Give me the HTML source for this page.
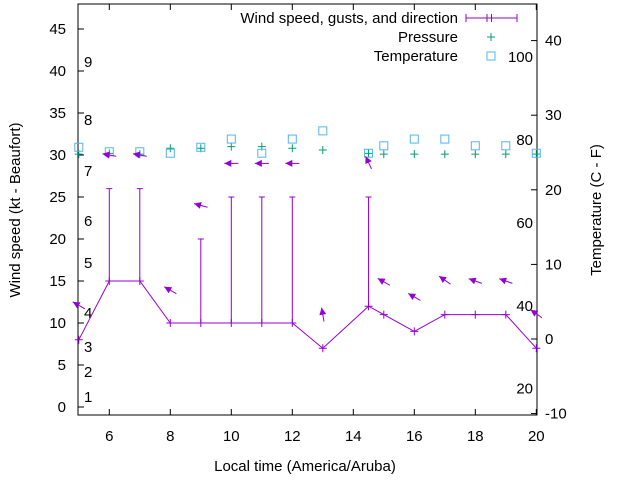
<!DOCTYPE html>
<html><head><meta charset="utf-8"><style>
body{margin:0;background:#fff}
svg{font-family:"Liberation Sans",sans-serif;font-size:15px}
</style></head><body>
<svg id="c" width="640" height="480">
<rect x="78" y="4" width="459" height="411" fill="none" stroke="#000"/>
<g id="ax"></g><g id="marks"></g>
<text x="305" y="471" text-anchor="middle">Local time (America/Aruba)</text>
<text transform="translate(20,210) rotate(-90)" text-anchor="middle">Wind speed (kt - Beaufort)</text>
<text transform="translate(601,210) rotate(-90)" text-anchor="middle">Temperature (C - F)</text>
<g>
<text x="458" y="23" text-anchor="end">Wind speed, gusts, and direction</text>
<line x1="466" y1="18" x2="517" y2="18" stroke="#9400d3"/>
<path d="M466 14v8M517 14v8M487 14v8M491.5 14v8" stroke="#9400d3"/>
<text x="458" y="42" text-anchor="end">Pressure</text>
<path d="M487 37h8M491 33v8" stroke="#009e73"/>
<text x="458" y="61" text-anchor="end">Temperature</text>
<rect x="487" y="52" width="8" height="8" fill="none" stroke="#56b4e9"/>
</g>
</svg>
<script>
const times=[5,6,7,8,9,10,11,12,13,14.5,15,16,17,18,19,20];
const speed=[8,15,15,10,10,10,10,10,7,12,11,9,11,11,11,7];
const gustTimes=[6,7,9,10,11,12,14.5];
const gusts=[26,26,20,25,25,25,25];
const pressure=[30.1,30.2,30.1,30.8,30.8,31.0,31.0,30.8,30.6,30.2,30.1,30.1,30.1,30.1,30.1,30.1];
const tempC=[25.7,25.1,25.1,24.9,25.7,26.8,24.9,26.8,27.9,24.9,25.9,26.8,26.8,25.9,25.9,24.9];
const arrowVal=[12.1,30,30,13.9,24,29,29,29,11,29.1,14.9,13.1,15.1,15,15,11.1];
const arrowDir=[150,170,170,150,165,180,180,180,100,115,150,150,145,160,160,145];
const xTicks=[6,8,10,12,14,16,18,20];
const yTicks=[0,5,10,15,20,25,30,35,40,45];
const y2Ticks=[-10,0,10,20,30,40];
const fLabels=[20,40,60,80,100];
const bft=[[1,397],[2,372],[3,347],[4,313],[5,263],[6,221],[7,171],[8,120],[9,62]];
const X=t=>78.8+(t-5)*30.5;
const Y=v=>407-v*8.4;
const Y2=c=>339-c*7.46;
const NS='http://www.w3.org/2000/svg';
const ax=document.getElementById('ax'),mk=document.getElementById('marks');
function el(p,tag,a,txt){const e=document.createElementNS(NS,tag);for(const k in a)e.setAttribute(k,a[k]);if(txt!==undefined)e.textContent=txt;p.appendChild(e);return e;}
xTicks.forEach(t=>{el(ax,'path',{d:`M${X(t)} 415v-6M${X(t)} 4v6`,stroke:'#000'});
const e=el(ax,'text',{x:X(t),y:441,'text-anchor':'middle'},t);

});
yTicks.forEach(v=>{el(ax,'path',{d:`M78 ${Y(v)}h6`,stroke:'#000'});
const e=el(ax,'text',{x:66,y:Y(v)+5,'text-anchor':'end'},v);

});
y2Ticks.forEach(v=>{el(ax,'path',{d:`M537 ${Y2(v)}h-6`,stroke:'#000'});
const e=el(ax,'text',{x:545,y:Y2(v)+5},v);

});
fLabels.forEach(f=>{const e=el(ax,'text',{x:533,y:Y2((f-32)*5/9)+5,'text-anchor':'end'},f);

});
bft.forEach(b=>{const e=el(ax,'text',{x:84,y:b[1]+5},b[0]);

});
const ln=el(mk,'polyline',{points:times.map((t,i)=>X(t)+','+Y(speed[i])).join(' '),fill:'none',stroke:'#9400d3'});


times.forEach((t,i)=>{el(mk,'path',{d:`M${X(t)-4} ${Y(speed[i])}h8M${X(t)} ${Y(speed[i])-4}v8`,stroke:'#9400d3'});});
gustTimes.forEach((t,i)=>{const s=speed[times.indexOf(t)];
const g=el(mk,'path',{d:`M${X(t)} ${Y(s)}V${Y(gusts[i])}M${X(t)-3} ${Y(gusts[i])}h6`,stroke:'#9400d3'});

});
times.forEach((t,i)=>{const x=X(t),y=Y(pressure[i]);
const p=el(mk,'path',{d:`M${x-4} ${y}h8M${x} ${y-4}v8`,stroke:'#009e73'});


const r=el(mk,'rect',{x:X(t)-4,y:Y2(tempC[i])-4,width:8,height:8,fill:'none',stroke:'#56b4e9'});


const a=arrowDir[i]*Math.PI/180,dx=Math.cos(a),dy=-Math.sin(a),cx=X(t),cy=Y(arrowVal[i]);
const hx=cx+dx*7,hy=cy+dy*7,tx=cx-dx*7,ty=cy-dy*7;
const px=-dy,py=dx;
const g=el(mk,'g',{});


el(g,'line',{x1:tx,y1:ty,x2:hx,y2:hy,stroke:'#9400d3'});
el(g,'polygon',{points:`${hx},${hy} ${hx-dx*7+px*3.5},${hy-dy*7+py*3.5} ${hx-dx*7-px*3.5},${hy-dy*7-py*3.5}`,fill:'#9400d3'});
});
</script>
</body></html>
